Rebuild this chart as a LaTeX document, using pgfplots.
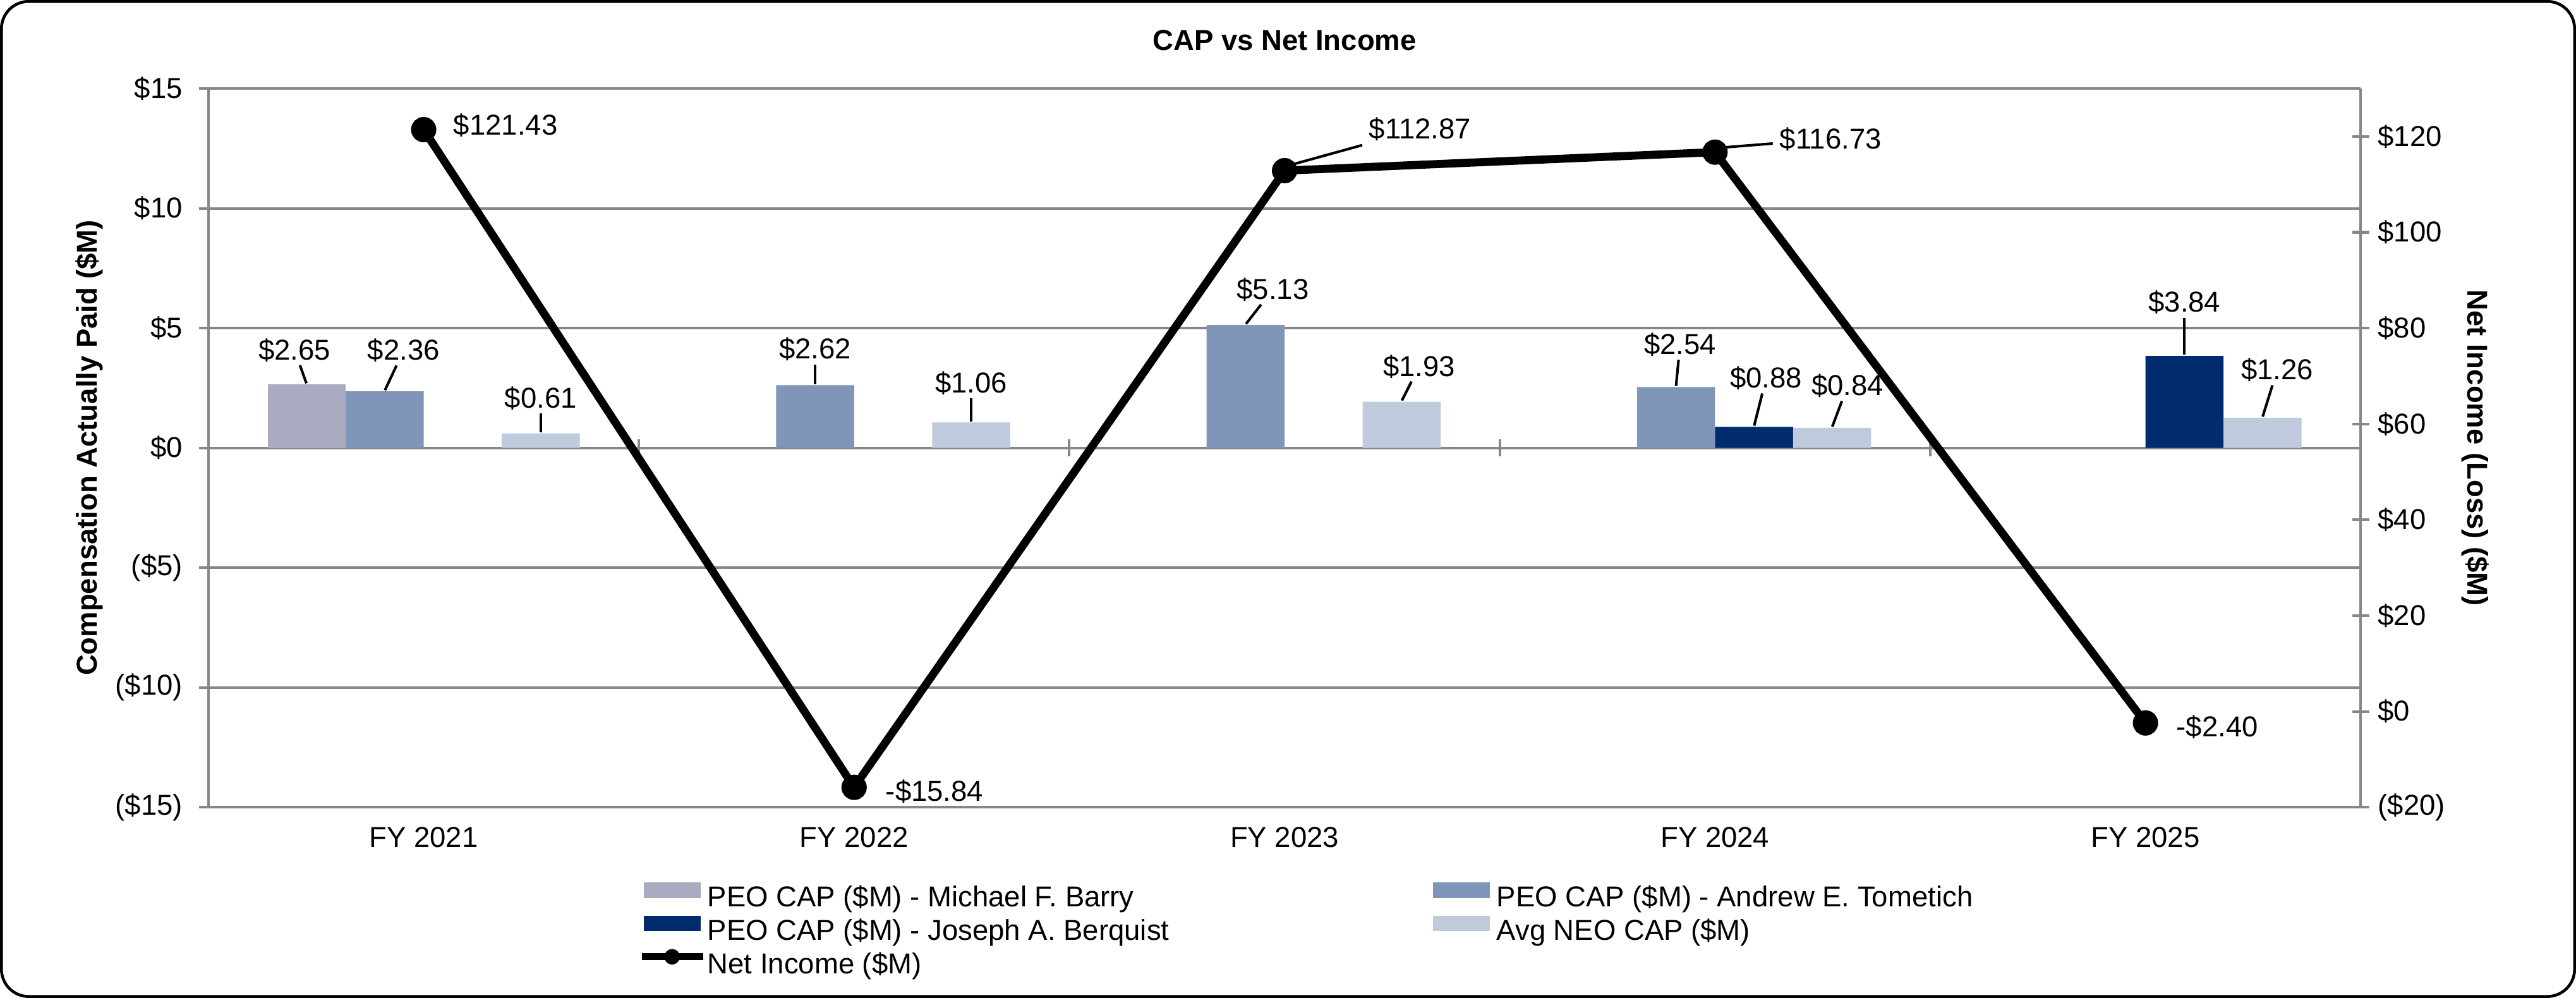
\documentclass[border=0pt]{standalone}
\usepackage{fontspec}
\setmainfont{Liberation Sans}
\usepackage{pgfplots}
\usepackage{pgfplotstable}
\pgfplotsset{compat=1.18}

\definecolor{barry}{HTML}{A9ABC0}
\definecolor{tometich}{HTML}{7F96B8}
\definecolor{berquist}{HTML}{002B6E}
\definecolor{avgneo}{HTML}{BFCADC}
\definecolor{gridgray}{HTML}{878787}

% "$1.23" / "-$1.23"
\newcommand{\moneylabel}[1]{%
  \pgfmathtruncatemacro{\isneg}{(#1)<0}%
  \ifnum\isneg=1 -\fi\$%
  \pgfmathparse{abs(#1)}%
  \pgfmathprintnumber[fixed,fixed zerofill,precision=2,assume math mode=true]{\pgfmathresult}}

% x = category (0 = FY 2021), y = value; dx, dy, dist (pt) place the label
\pgfplotstableread{
x y dx dy dist op
0 2.65 -4.2 0 6.3 1
}\barrydata
\pgfplotstableread{
x y dx dy dist op
0 2.36 6.6 0 8.6 1
1 2.62 0 0 6.8 1
2 5.13 9.5 0 6.7 1
3 2.54 1.4 0 9.1 1
}\tometichdata
\pgfplotstableread{
x y dx dy dist op
3 0.88 4.2 0 11.2 1
4 3.84 0 0 12.9 1
}\berquistdata
\pgfplotstableread{
x y dx dy dist op
0 0.61 0 0 6.6 1
1 1.06 0 0 8.1 1
2 1.93 6.1 0 6.6 1
3 0.84 5.4 0 8.9 1
4 1.26 5.1 0 10.9 1
}\avgneodata
\pgfplotstableread{
x y dx dy dist op
0 121.43 0 0 6.6 0
1 -15.84 0 0 7.2 0
2 112.87 0 13 25.6 1
3 116.73 0 3.2 18.7 1
4 -2.40 0 0 7.0 0
}\netincome

\pgfplotsset{
  chartpos/.style={at={(72.5pt,66.3pt)}, anchor=south west, scale only axis,
    width=748.6pt, height=249.9pt, xmin=-0.5, xmax=4.5},
  valuelabels/.style={
    nodes near coords={},
    visualization depends on={\thisrow{y} \as \rawy},
    visualization depends on={\thisrow{dx} \as \pindx},
    visualization depends on={\thisrow{dy} \as \pindy},
    visualization depends on={\thisrow{dist} \as \pindist},
    visualization depends on={\thisrow{op} \as \pinop},
    every node near coord/.append style={inner sep=0pt, minimum size=0pt, text=black,
      pin={[pin distance=\pindist pt, xshift=\pindx pt, yshift=\pindy pt, inner sep=1pt, text=black,
            pin edge={solid, black, line width=0.9pt, draw opacity=\pinop}]#1:{\moneylabel{\rawy}}}},
  },
  swatch/.style={legend image code/.code={\fill[#1] (0pt,1.1pt) rectangle (19.4pt,6pt); \path (21.7pt,0pt);}},
}

\begin{document}
\begin{tikzpicture}
\draw[black, line width=1pt, rounded corners=9.5pt] (0.5pt,0.5pt) rectangle (895.5pt,346.5pt);

% bars, left axis
\begin{axis}[chartpos,
  ymin=-15, ymax=15, ytick={-15,-10,...,15},
  yticklabels={(\$15),(\$10),(\$5),\$0,\$5,\$10,\$15},
  axis y line*=left, axis x line*=bottom, x axis line style={draw=none},
  y axis line style={color=gridgray, line width=0.9pt},
  ymajorgrids, grid style={color=gridgray, line width=0.9pt},
  tick align=outside, major tick length=3.3pt,
  ytick style={color=gridgray, line width=0.9pt}, xtick style={draw=none},
  yticklabel style={xshift=-2.2pt},
  xtick={0,...,4}, xticklabels={FY 2021,FY 2022,FY 2023,FY 2024,FY 2025},
  title={CAP vs Net Income},
  title style={font=\bfseries, at={(axis description cs:0.5,1)}, anchor=center, yshift=10.8pt},
  ylabel={Compensation Actually Paid (\$M)},
  ylabel style={at={(axis description cs:-0.0555,0.5)}, anchor=center, font=\bfseries},
  ybar=0pt, bar width=27.14pt,
]
\addplot[fill=barry, draw=none, valuelabels=90] table {\barrydata};
\addplot[fill=tometich, draw=none, valuelabels=90] table {\tometichdata};
\addplot[fill=berquist, draw=none, valuelabels=90] table {\berquistdata};
\addplot[fill=avgneo, draw=none, valuelabels=90] table {\avgneodata};
\end{axis}

% category boundary ticks on the zero line
\begin{axis}[chartpos, ymin=-15, ymax=15,
  axis y line=none, axis x line=middle, x axis line style={draw=none},
  xtick={0.5,1.5,2.5,3.5}, xticklabels={},
  tick align=center, major tick length=6pt,
  xtick style={color=gridgray, line width=0.9pt},
]
\addplot[draw=none] coordinates {(0,0)};
\end{axis}

% net income, right axis
\begin{axis}[chartpos,
  ymin=-20, ymax=130, ytick={-20,0,...,120},
  yticklabels={(\$20),\$0,\$20,\$40,\$60,\$80,\$100,\$120},
  axis y line*=right, axis x line=none,
  y axis line style={color=gridgray, line width=0.9pt},
  tick align=center, major tick length=6pt,
  ytick style={color=gridgray, line width=0.9pt},
  yticklabel style={xshift=-0.5pt},
  ylabel={Net Income (Loss) (\$M)},
  ylabel style={at={(axis description cs:1.0534,0.5)}, anchor=center, rotate=180, font=\bfseries},
  legend columns=2, legend cell align=left,
  legend style={at={(axis description cs:0.1994,-0.104)}, anchor=north west,
    draw=none, fill=none, inner sep=0pt, row sep=0pt,
    nodes={inner sep=0pt, text height=7.6pt, text depth=3.1pt},
    /tikz/every even column/.append style={column sep=91.8pt}},
]
\addlegendimage{swatch=barry}
\addlegendentry{PEO CAP (\$M) - Michael F. Barry}
\addlegendimage{swatch=tometich}
\addlegendentry{PEO CAP (\$M) - Andrew E. Tometich}
\addlegendimage{swatch=berquist}
\addlegendentry{PEO CAP (\$M) - Joseph A. Berquist}
\addlegendimage{swatch=avgneo}
\addlegendentry{Avg NEO CAP (\$M)}
\addlegendimage{legend image code/.code={%
    \draw[black, line width=2.4pt] (-1pt,3.6pt) -- (20.4pt,3.6pt);
    \fill[black] (9.6pt,3.6pt) circle (2.5pt);
    \path (21.7pt,0pt);}}
\addlegendentry{Net Income (\$M)}
\addplot[black, line width=2.8pt, mark=*, mark size=3pt, valuelabels=0, forget plot]
  table {\netincome};
\end{axis}

\pgfresetboundingbox
\path (0pt,0pt) rectangle (896pt,347pt);
\end{tikzpicture}
\end{document}
